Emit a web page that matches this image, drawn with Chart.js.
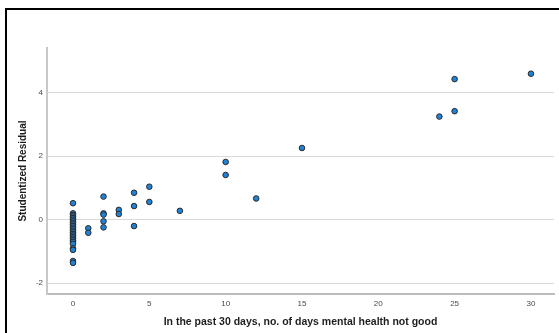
<!DOCTYPE html>
<html>
<head>
<meta charset="utf-8">
<script src="https://cdn.jsdelivr.net/npm/chart.js@4/dist/chart.umd.min.js"></script>
<style>
  html, body { margin: 0; padding: 0; background: #fff; }
  #wrap { position: relative; width: 559px; height: 333px; overflow: hidden; }
  #frame { position: absolute; left: 5px; top: 8px; width: 700px; height: 400px;
           border-left: 2px solid #000; border-top: 2px solid #000; }
  #c { position: absolute; left: 0; top: 0; }
</style>
</head>
<body>
<div id="wrap">
  <div id="frame"></div>
  <canvas id="c" width="559" height="333"></canvas>
</div>
<script>
// Days of poor mental health (past 30 days) and the studentized residual for each case
const mentalDays = [
  0, 0, 0, 0, 0, 0, 0, 0, 0, 0, 0, 0, 0, 0, 0, 0, 0, 0, 0, 0, 0, 0, 0, 0, 0,
  1, 1,
  2, 2, 2, 2, 2,
  3, 3,
  4, 4, 4,
  5, 5,
  7,
  10, 10,
  12,
  15,
  24,
  25, 25,
  30
];
const studentizedResidual = [
  0.52, 0.20, 0.15, 0.10, 0.05, 0.00, -0.05, -0.10, -0.15, -0.20, -0.25, -0.30, -0.35,
  -0.40, -0.45, -0.50, -0.55, -0.60, -0.65, -0.70, -0.76, -0.90, -0.95, -1.30, -1.36,
  -0.27, -0.41,
  0.73, 0.20, 0.16, -0.05, -0.24,
  0.31, 0.18,
  0.85, 0.43, -0.20,
  1.04, 0.56,
  0.28,
  1.82, 1.41,
  0.67,
  2.26,
  3.25,
  4.43, 3.42,
  4.60
];
const xTickValues = [0, 5, 10, 15, 20, 25, 30];
const yTickValues = [-2, 0, 2, 4];

const points = mentalDays.map((d, i) => ({ x: d, y: studentizedResidual[i] }));

new Chart(document.getElementById('c'), {
  type: 'scatter',
  data: {
    datasets: [{
      data: points,
      pointRadius: 2.8,
      pointBackgroundColor: '#1f82d6',
      pointBorderColor: '#2b2b2b',
      pointBorderWidth: 1
    }]
  },
  options: {
    responsive: false,
    animation: false,
    events: [],
    layout: { padding: { top: 48, right: 0, left: 0, bottom: 0 } },
    plugins: { legend: { display: false }, tooltip: { enabled: false } },
    scales: {
      x: {
        type: 'linear',
        min: -1.703,
        max: 31.51,
        afterBuildTicks: s => { s.ticks = xTickValues.map(v => ({ value: v })); },
        afterFit: s => { s.height = 39; },
        grid: { color: 'rgba(0,0,0,0)', drawTicks: false },
        border: { color: '#bcbcbc', width: 2 },
        ticks: { color: '#4a4a4a', padding: 5, maxRotation: 0,
                 font: { family: 'Liberation Sans, Arial, sans-serif', size: 8 } },
        title: {
          display: true,
          text: 'In the past 30 days, no. of days mental health not good',
          color: '#1e1e1e',
          padding: { top: 0, bottom: 5 },
          font: { family: 'Liberation Sans, Arial, sans-serif', size: 10.5, weight: 'bold' }
        }
      },
      y: {
        min: -2.34,
        max: 5.41,
        afterBuildTicks: s => { s.ticks = yTickValues.map(v => ({ value: v })); },
        afterFit: s => { s.width = 47; },
        grid: { color: '#d9d9d9', lineWidth: 1, drawTicks: false },
        border: { color: '#c8c8c8', width: 2 },
        ticks: { color: '#4a4a4a', padding: 4,
                 font: { family: 'Liberation Sans, Arial, sans-serif', size: 8 } },
        title: {
          display: true,
          text: 'Studentized Residual',
          color: '#1e1e1e',
          padding: { top: 17, bottom: 0 },
          font: { family: 'Liberation Sans, Arial, sans-serif', size: 10, weight: 'bold' }
        }
      }
    }
  }
});
</script>
</body>
</html>
